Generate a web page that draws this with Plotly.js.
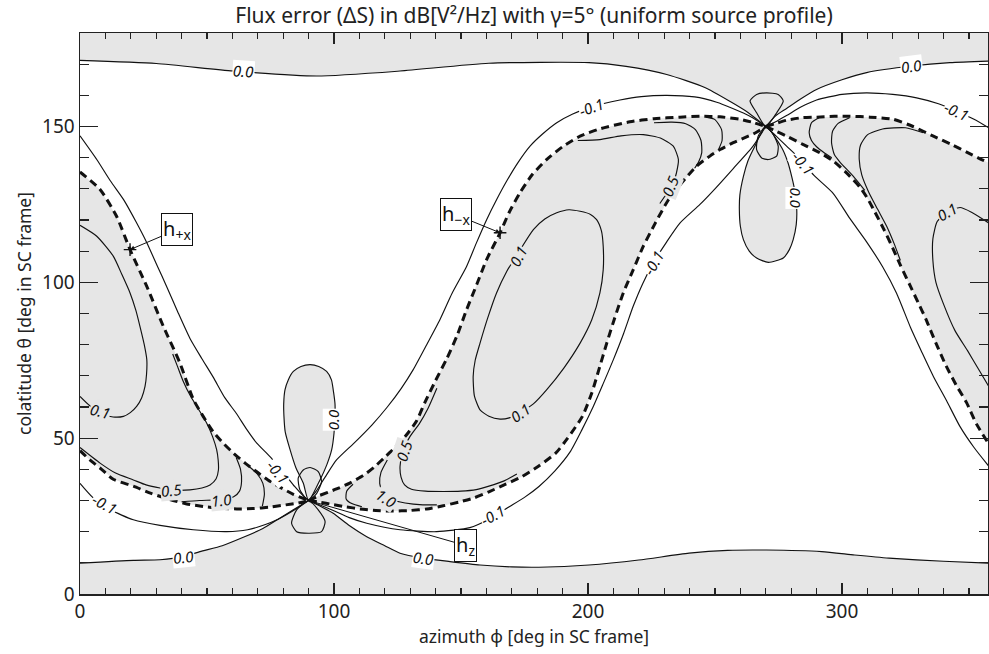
<!DOCTYPE html>
<html>
<head>
<meta charset="utf-8">
<script src="https://cdn.plot.ly/plotly-3.0.1.min.js"></script>
<style>html,body{margin:0;padding:0;background:#fff;}#chart{width:989px;height:654px;}</style>
</head>
<body>
<div id="chart"></div>
<script>
// ---- contour lines (azimuth phi [deg], colatitude theta [deg]) ----
const T0_LEFT  = [[0,171.2],[30,170.2],[60.3,167.8],[93.2,166.2],[126,167.8],[161,170.3],[200.4,170.5],[215,169.3],[231,166.7],[246,162.5],[256,158],[263,154.5],[270,150]];
const T0_RIGHT = [[270,150],[274,153.5],[278.2,155.8],[284,159],[290,161.9],[300,165],[309.7,167.3],[327.4,169.4],[342.5,170.5],[357.9,171]];
const B0_LEFT  = [[0,9.9],[21,10.8],[31.5,11],[40.7,12],[47.2,13.6],[56,15.5],[64.3,18.2],[72,21],[78,24],[84,27],[90,30]];
const B0_RIGHT = [[90,30],[95,28],[99.7,25.9],[106,22],[112.9,18.4],[120,15.5],[126,13.1],[135.2,11.5],[145.7,10.4],[157.5,9.3],[170,8.7],[180.7,8.6],[200.4,9.3],[220,10.9],[239.8,13.1],[255,14],[270.3,14.1],[292,13.6],[305,12.5],[318.5,11.5],[340,10.5],[357.9,9.9]];
const LOBE_A   = [[90,30],[87.9,35.6],[85,40.5],[82.7,46.3],[80.8,52],[80.3,57],[80.2,61],[80.7,65.5],[82,68.7],[84,71.4],[87,73],[90.6,73.6],[94,73],[97.1,71.4],[99,68.7],[99.7,65.5],[100.4,61],[100.4,57],[100,51.5],[99.1,46.3],[97.2,41.5],[94.5,36.6],[90,30]];
const LOOP_A_UP   = [[90,30],[86.6,33.4],[85.9,37.2],[87.9,39.8],[90.6,40.6],[93.8,39.3],[95.1,36.1],[93.2,32.3],[90,30]];
const LOOP_A_DOWN = [[90,30],[85.3,27],[83.3,22.7],[85.3,20],[89.9,19.5],[95.1,20],[96.5,23.2],[93.8,27],[90,30]];
const LOBE_B   = [[270,150],[265.7,143.7],[263,139],[261.2,134],[259.8,128],[259.6,123.4],[260,118],[261.2,113.7],[263.5,110],[266.4,107.8],[271,106.4],[276.9,107.8],[279.3,110.5],[280.8,113.7],[282,118.5],[282.2,123.4],[281.5,129],[280.2,134],[278.5,139],[276.3,143.2],[270,150]];
const LOOP_B_UP   = [[270,150],[266.4,154.4],[263.8,158.2],[266.4,160.3],[270.3,160.8],[274.9,160.3],[276.9,158.2],[274.3,154.4],[270,150]];
const LOOP_B_DOWN = [[270,150],[267,146.9],[266.4,142.6],[268.4,139.9],[271,139.4],[274.3,140.5],[274.9,143.7],[273,147.4],[270,150]];
// -0.1 contours
const M1 = [[0,147],[6.6,139.4],[12,132.5],[17.1,126.6],[22,119.5],[26.3,112.7],[30.3,105.5],[34.1,98.7],[38.5,90.5],[43.3,82],[48,75.5],[52.5,69.5],[57,63],[61.5,58],[65.5,53],[69.5,48.5],[74.8,44.1],[78.5,40.5],[81.4,37.7],[84.5,34.5],[87.9,31.5],[90,30]];
const M2 = [[0,35.5],[5,31],[12,27],[21,23.8],[31.5,22],[44.6,20.6],[57.8,20],[66,20.6],[73,22.3],[78,24],[81.4,25.5],[86,27.8],[90,30]];
const M3 = [[90,30],[95,28.4],[99.7,26.8],[106,24.5],[112.9,22.7],[126,20.6],[140.4,20],[153.5,21.3],[161,24],[169,28],[175,31],[180.7,34.5],[187,39.5],[192.9,45.5],[197.5,52.5],[202,60],[206,67.5],[210,75.2],[214,83.5],[217.8,92.3],[221.5,99.5],[225.7,106.2],[231,113],[236.2,119],[244.1,125],[250,130],[257.2,136.5],[265,143.7],[270,150]];
const M4 = [[90,30],[93,33],[96.5,37.5],[101,43],[108,48.5],[115,54.3],[121,60],[126.5,66],[131.2,72],[136.5,80],[141.7,88],[146.5,96.5],[152.2,105.1],[156,112.5],[160.1,120.1],[164,126.5],[168,132.5],[172.5,138.5],[177.2,143.7],[182,147.5],[187.7,151.2],[194,154],[201.4,156.3],[212.6,158.5],[221,159.6],[231,160],[242,159.5],[250.7,157.8],[257,155.8],[261.2,154.3],[265,152.7],[270,150]];
const M5 = [[270,150],[274.5,151.8],[278.2,153.5],[284,156.3],[290,158.5],[300,160.3],[309.7,160.8],[320,160.3],[329.4,159.2],[338,157.3],[345.1,154.9],[352,152.3],[357.9,149.5]];
const M6 = [[270,150],[274,147],[278.2,143.7],[284.8,138.5],[289,134.3],[296.6,128.5],[303.1,120.5],[309.7,113],[316,105],[321.5,96.5],[327,85.5],[331.5,77.5],[336,69.8],[341.2,62],[346.5,53.7],[352,47],[357.9,40.9]];
// 0.1 contours
const P1  = [[0,118.3],[6.6,114.8],[13.1,108.4],[16.5,102.5],[19.7,96.6],[22,91],[23.6,85.9],[25.3,80],[26.3,75.2],[26.2,70.5],[25.6,66.6],[24.3,63],[22.3,60.2],[19.8,58.2],[17.1,57],[13,56.8],[9,57.7],[4,60.3],[0,63.4]];
const P1R = [[357.9,119],[351,122.5],[346.5,124],[341.5,122.5],[337.5,119.5],[335.8,114],[335.8,107],[337,100],[340,93],[344.5,84.5],[349.5,78],[353.5,72.5],[357.9,66.5]];
const P2  = [[187.7,122.3],[192.5,123.3],[196.9,122.8],[201,121.8],[203.4,120.1],[205.3,116.5],[206,111.6],[206,104],[204.7,96.6],[201.5,88],[196.9,80.5],[190.5,72.5],[183.7,65.5],[178.5,61],[173.2,58.2],[169,56.5],[165.4,56.1],[161,57],[157.5,59.1],[155.3,63.5],[154.8,69.8],[155.6,75],[157.5,80.5],[160.5,88.5],[164,96.6],[168,103.5],[172.6,109.5],[178.5,116.9],[183,120.3],[187.7,122.3]];
// 0.5 / 1.0 / inner contours near the singular points
const L05  = [[0,47],[7.9,42],[14,38.8],[21,36.6],[26,35],[31.5,34],[37.5,33.3],[43.3,33.4],[48,34],[51.2,35],[53.6,37],[54.5,39.8],[54.4,43],[53.8,46.3],[52.2,50.5],[49.9,54.8],[46.5,59.5],[43.5,63.5],[40.5,68.5],[38.3,73.2],[36.5,77]];
const L10  = [[40,29.6],[47,30],[55.8,30.3],[60.5,31.2],[62.8,33],[63.6,36],[63.2,40],[61.5,43.8]];
const LIN  = [[66,41.3],[69.8,38.5],[72,35.5],[72.6,32],[71.8,28.2]];
const MA05 = [[140.5,66],[137,59.5],[133.5,54.5],[129.9,50.5],[127,45.5],[126,40.9],[126.4,37.5],[127.8,35],[130.5,33.6],[136,33],[143,32.9],[150,33],[156,33.5],[161,34.6],[167,36.3],[172,38.5]];
const MA10 = [[121,43],[118.5,39],[118,35.5],[119.4,32.2],[122.5,30.3],[128,29.2],[135,28.6],[140.5,28.6]];
const MAIN = [[107.5,35.2],[105,33],[104.8,30.5],[107,29],[111,28]];
const MB05 = [[196,145.5],[204.7,145.8],[213,147],[221.8,147.4],[228.5,146.3],[233.6,143.7],[235.6,139.4],[234.8,135],[233.6,131.9],[231,128.5],[228.3,125.3]];
const MB10 = [[226,151.2],[233,151.4],[238.5,150.9],[242.3,149],[244.5,145.5],[244.8,141.6],[243.5,138.5],[242,136.6]];
const MBIN = [[246.5,153],[250,152.2],[252.6,149],[252.8,145.5],[251.5,142.8]];
const RIN  = [[291,152.8],[288,151.2],[287.1,148],[288,145.5],[290,143.5],[293,141.6],[296,140]];
const R10  = [[303,152.8],[298.5,151],[296.3,148.5],[295.9,144.8],[297,141],[299.2,138.6],[304.5,134],[309,129.5]];
const R05  = [[332,148],[325,149.6],[316,149.2],[310,147.3],[307.3,144],[306.8,139.5],[307.8,134.5],[310.5,129],[314,123.5],[317.6,118],[320.5,112.5],[323,107]];
// dashed boundaries
const D1 = [[0,135.4],[7.9,129.8],[14.4,121.2],[19.7,110.5],[26.3,98.7],[32.8,85.9],[39.4,74],[44.6,62.5],[48.5,57],[52.5,52],[56.5,48.3],[60.4,45.2],[65,42],[69.6,39.2],[74,36.6],[78.7,34.3],[84,32],[90,30]];
const D2 = [[0,46],[3.9,43],[8.5,40],[13.1,36.8],[21,34.6],[28,32.3],[35.4,30.3],[42,28.9],[48.5,28.1],[55,27.5],[61.7,27.3],[68,27.4],[74.8,27.9],[81,28.6],[86,29.2],[90,30]];
const D3 = [[90,30],[94,31.5],[101,33.7],[106,35.5],[111.5,38],[116,40.8],[119.5,43.5],[124,47],[128.5,51],[132.5,55.5],[135.8,61.5],[140,68.5],[144.4,75.5],[148.5,83],[152.2,91.2],[156.2,99.3],[160.1,107.3],[165.4,115.9],[169,122.5],[173.2,128.7],[178,134.5],[183.7,139.4],[190,143.5],[196.9,146.9],[205,149.3],[216.5,151.5],[226,152.5],[236.2,153],[244.1,153.3],[252,153.1],[259.8,152.3],[265,151.3],[270,150]];
const D4 = [[90,30],[94,29.5],[99.7,28.7],[104.5,28],[110.2,27.3],[116.5,26.8],[123.3,26.6],[130,26.8],[136.5,27.3],[143,28.3],[149.6,29.6],[155,30.8],[161,32.8],[167,35],[174.1,37.7],[180.5,41],[187.3,45.2],[192,50],[197.8,57],[201.5,64.5],[204.3,72],[207.4,80.5],[210.5,88.5],[213.9,96.6],[217.8,104],[221.8,111.6],[226.5,119],[231.7,126.5],[237,132],[242.8,137.3],[248,140.5],[252,142.6],[257.2,144.8],[262,146.5],[266,148],[270,150]];
const D5 = [[270,150],[274,151],[278.2,152],[284,152.8],[290,153],[297,153.3],[303.1,153.3],[311,153],[320.2,152.3],[328,150],[336,146.9],[343,144.3],[349.1,141.8],[354,139.8],[357.9,138.3]];
const D6 = [[270,150],[274,148.5],[278.2,146.9],[284.8,144.2],[291.3,141.6],[296.6,138.9],[301.8,135.1],[307.1,130.5],[310,127],[313,122.5],[316.5,117],[320,111],[323,105.5],[326.8,99],[330,93.5],[333,88.3],[337,80.5],[341,73.2],[345,67],[349,61.5],[353,54.5],[357.9,48]];
// antenna directions marked with "+"
const ANT_PHI   = [19.7, 165.4];
const ANT_THETA = [110.5, 115.9];
// tick labels
const X_TICKS = [0, 100, 200, 300];
const Y_TICKS = [0, 50, 100, 150];
// contour labels: text, phi, theta, angle, background
const LABELS = [
  ['0.0', 64.3, 167.8, 4, 'w'], ['0.0', 327.4, 169.4, -7, 'w'],
  ['-0.1', 201.4, 156.1, -20, 'w'], ['-0.1', 345.1, 154.9, 24, 'w'],
  ['-0.1', 284.8, 138.3, 50, 'w'], ['0.0', 281.8, 127, 90, 'w'],
  ['0.5', 232.4, 130.8, -68, 'g'], ['0.1', 341.2, 122.6, -30, 'g'],
  ['0.1', 172.6, 108.4, -62, 'g'], ['0.1', 173.2, 58.2, -35, 'g'],
  ['-0.1', 225.7, 106.2, -60, 'w'], ['-0.1', 162.5, 25.5, -28, 'w'],
  ['0.5', 127.6, 45.8, -72, 'g'], ['1.0', 120.5, 30.8, 32, 'g'],
  ['0.0', 135.2, 11.5, 8, 'w'], ['0.0', 40.7, 12, -6, 'w'],
  ['0.5', 36, 33.4, -5, 'g'], ['1.0', 55.8, 30.3, -6, 'g'],
  ['-0.1', 78.1, 39.3, 50, 'w'], ['0.0', 99.9, 56, -90, 'w'],
  ['-0.1', 9.8, 28.8, 28, 'w'], ['0.1', 8, 58.6, 15, 'g']
];

const FILL = '#e6e6e6';
const FONT = 'Noto Sans, Open Sans, sans-serif';
const px = a => a.map(p => p[0]);
const py = a => a.map(p => p[1]);

const traces = [];
function addFill(poly) {
  traces.push({type:'scatter', mode:'lines', x:px(poly), y:py(poly), fill:'toself',
    fillcolor:FILL, line:{width:0, color:FILL}, hoverinfo:'skip'});
}
function addLine(pts, dashed) {
  traces.push({type:'scatter', mode:'lines', x:px(pts), y:py(pts), hoverinfo:'skip',
    line: dashed ? {color:'#111', width:3, dash:'8px,5px', shape:'spline', smoothing:0.6}
                 : {color:'#111', width:1.15, shape:'spline', smoothing:0.6}});
}
const rev = a => a.slice().reverse();

// shaded regions
addFill(T0_LEFT.concat(T0_RIGHT.slice(1), [[357.9,180],[0,180]]));
addFill([[0,0]].concat(B0_LEFT, B0_RIGHT.slice(1), [[357.9,0]]));
addFill(LOBE_A);
addFill(LOBE_B);
addFill(D1.concat(rev(D2).slice(1)));
addFill(D5.concat(rev(D6).slice(0,-1)));
addFill(D3.concat(rev(D4).slice(1)));

// solid contours
[T0_LEFT, T0_RIGHT, B0_LEFT, B0_RIGHT, LOBE_A, LOOP_A_UP, LOOP_A_DOWN, LOBE_B, LOOP_B_UP, LOOP_B_DOWN,
 M1, M2, M3, M4, M5, M6, P1, P1R, P2, L05, L10, LIN, MA05, MA10, MAIN, MB05, MB10, MBIN, RIN, R10, R05]
 .forEach(c => addLine(c, false));
// dashed boundaries
[D1, D2, D3, D4, D5, D6].forEach(c => addLine(c, true));

traces.push({type:'scatter', mode:'markers', x:ANT_PHI, y:ANT_THETA, hoverinfo:'skip',
  marker:{symbol:'cross-thin', size:9, line:{width:1.4, color:'#111'}}});

const annotations = LABELS.map(l => ({
  text:l[0], x:l[1], y:l[2], xref:'x', yref:'y', showarrow:false, textangle:l[3],
  font:{family:FONT, size:15, color:'#111', style:'italic'},
  bgcolor: l[4] === 'w' ? '#ffffff' : FILL, borderpad:0
}));
function boxNote(text, tipX, tipY, ax, ay) {
  annotations.push({text:text, x:tipX, y:tipY, xref:'x', yref:'y', ax:ax, ay:ay,
    showarrow:true, arrowhead:2, arrowsize:0.9, arrowwidth:1, arrowcolor:'#111',
    font:{family:FONT, size:20, color:'#111'}, bgcolor:'#ffffff',
    bordercolor:'#111', borderwidth:1, borderpad:1});
}
boxNote('h<sub>+x</sub>', ANT_PHI[0], ANT_THETA[0], 47, -20);
boxNote('h<sub>−x</sub>', ANT_PHI[1], ANT_THETA[1], -44, -18);
boxNote('h<sub>z</sub>', 90, 30, 157, 45);

const axisCommon = {showgrid:false, zeroline:false, showline:true, linecolor:'#222', linewidth:1.5,
  mirror:'allticks', ticks:'inside', tickcolor:'#222', tickwidth:1.3,
  tickfont:{family:FONT, size:19, color:'#222'}, automargin:false};

const layout = {
  width:989, height:654,
  margin:{l:80, r:1, t:33, b:60},
  paper_bgcolor:'#fff', plot_bgcolor:'#fff',
  showlegend:false, hovermode:false,
  title:{text:'Flux error (ΔS) in dB[V²/Hz] with γ=5° (uniform source profile)',
    font:{family:FONT, size:21, color:'#222'}, xref:'paper', x:0.5, xanchor:'center',
    yref:'container', y:0.976, yanchor:'middle'},
  xaxis:Object.assign({}, axisCommon, {range:[0,357.5], tickmode:'array', tickvals:X_TICKS,
    ticklen:11, minor:{dtick:10, tick0:0, ticklen:6, tickwidth:1.1, ticks:'inside', tickcolor:'#222'},
    title:{text:'azimuth φ [deg in SC frame]', font:{family:FONT, size:17.5, color:'#222'}, standoff:4}}),
  yaxis:Object.assign({}, axisCommon, {range:[0,180], tickmode:'array', tickvals:Y_TICKS,
    ticklen:18, minor:{dtick:10, tick0:0, ticklen:9, tickwidth:1.1, ticks:'inside', tickcolor:'#222'},
    title:{text:'colatitude θ [deg in SC frame]', font:{family:FONT, size:17.5, color:'#222'}, standoff:6}}),
  annotations:annotations
};

Plotly.newPlot('chart', traces, layout, {displayModeBar:false, staticPlot:true});
</script>
</body>
</html>
